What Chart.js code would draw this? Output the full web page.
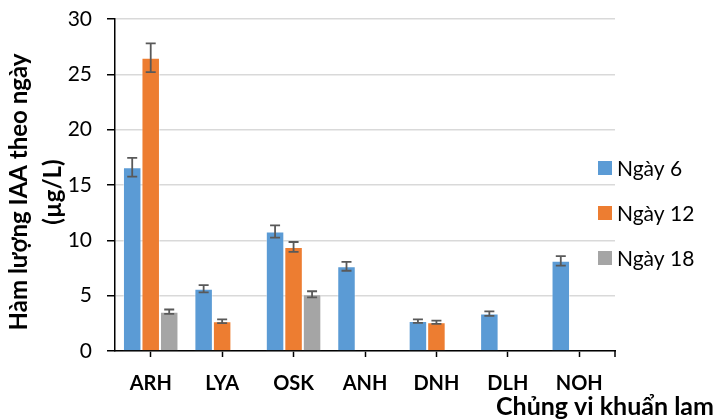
<!DOCTYPE html>
<html>
<head>
<meta charset="utf-8">
<script src="https://cdn.jsdelivr.net/npm/chart.js@4.4.1/dist/chart.umd.min.js"></script>
<style>
  html, body { margin: 0; padding: 0; background: #ffffff; }
  #wrap { width: 715px; height: 419px; position: relative; }
</style>
</head>
<body>
<div id="wrap"><canvas id="chart" width="715" height="419"></canvas></div>
<script>
// Cyanobacteria strains on the x axis
const strains = ['ARH', 'LYA', 'OSK', 'ANH', 'DNH', 'DLH', 'NOH'];

// IAA content (µg/L) per sampling day, with standard errors
const day6 = [16.6, 5.62, 10.8, 7.65, 2.7, 3.38, 8.15];
const day6Err = [0.85, 0.33, 0.55, 0.4, 0.15, 0.2, 0.43];
const day12 = [26.5, 2.68, 9.4, null, 2.6, null, null];
const day12Err = [1.3, 0.17, 0.45, null, 0.15, null, null];
const day18 = [3.55, null, 5.12, null, null, null, null];
const day18Err = [0.2, null, 0.28, null, null, null, null];

const seriesNames = ['Ngày 6', 'Ngày 12', 'Ngày 18'];
const yTicks = [0, 5, 10, 15, 20, 25, 30];

const yTitle = ['Hàm lượng IAA theo ngày', '(µg/L)'];
const xTitle = 'Chủng vi khuẩn lam';

const FONT = 'Lato, "Open Sans", "Noto Sans", sans-serif';
const colors = ['#5B9BD5', '#ED7D31', '#A5A5A5'];

// Plot rectangle of the chart, in canvas pixels
const PLOT = { left: 115, top: 19, right: 615, bottom: 351 };

// Draws the error whiskers on top of each bar
const errorBars = {
  id: 'errorBars',
  afterDatasetsDraw(chart) {
    const ctx = chart.ctx;
    const y = chart.scales.y;
    ctx.save();
    ctx.strokeStyle = '#595959';
    ctx.lineWidth = 1.8;
    chart.data.datasets.forEach((ds, di) => {
      const meta = chart.getDatasetMeta(di);
      ds.errors.forEach((e, i) => {
        const v = ds.data[i];
        if (v == null || e == null) return;
        const bar = meta.data[i];
        const x = bar.x;
        const top = y.getPixelForValue(v + e);
        const bot = y.getPixelForValue(v - e);
        const half = 5;
        ctx.beginPath();
        ctx.moveTo(x, top); ctx.lineTo(x, bot);
        ctx.moveTo(x - half, top); ctx.lineTo(x + half, top);
        ctx.moveTo(x - half, bot); ctx.lineTo(x + half, bot);
        ctx.stroke();
      });
    });
    ctx.restore();
  }
};

// Axis titles, legend and the closing tick of the category axis
const decorations = {
  id: 'decorations',
  afterDraw(chart) {
    const ctx = chart.ctx;
    const area = chart.chartArea;
    ctx.save();

    // closing tick at the right end of the x axis
    ctx.strokeStyle = '#000';
    ctx.lineWidth = 1.5;
    ctx.beginPath();
    ctx.moveTo(area.right, area.bottom);
    ctx.lineTo(area.right, area.bottom + 6);
    ctx.stroke();

    // y axis title, two rotated lines
    ctx.fillStyle = '#000';
    ctx.font = 'bold 24px ' + FONT;
    ctx.textAlign = 'center';
    ctx.textBaseline = 'alphabetic';
    const cy = 192;
    ctx.save();
    ctx.translate(27, cy);
    ctx.rotate(-Math.PI / 2);
    ctx.fillText(yTitle[0], 0, 0);
    ctx.restore();
    ctx.save();
    ctx.translate(61, cy);
    ctx.rotate(-Math.PI / 2);
    ctx.fillText(yTitle[1], 0, 0);
    ctx.restore();

    // x axis title, right aligned under the plot
    ctx.font = 'bold 25px ' + FONT;
    ctx.textAlign = 'right';
    ctx.fillText(xTitle, 714, 415);

    // legend
    ctx.font = '21px ' + FONT;
    ctx.textAlign = 'left';
    ctx.textBaseline = 'middle';
    const rows = [168, 213, 258];
    chart.data.datasets.forEach((ds, i) => {
      ctx.fillStyle = ds.backgroundColor;
      ctx.fillRect(598, rows[i] - 7, 14, 14);
      ctx.fillStyle = '#000';
      ctx.fillText(ds.label, 617, rows[i] + 1);
    });
    ctx.restore();
  }
};

const seriesValues = [day6, day12, day18];
const seriesErrors = [day6Err, day12Err, day18Err];

new Chart(document.getElementById('chart'), {
  type: 'bar',
  data: {
    labels: strains,
    datasets: seriesNames.map((name, i) => ({
      label: name,
      data: seriesValues[i],
      errors: seriesErrors[i],
      backgroundColor: colors[i],
      borderColor: 'rgba(255,255,255,0.45)',
      borderWidth: 1,
      categoryPercentage: 0.777,
      barPercentage: 1
    }))
  },
  options: {
    responsive: false,
    animation: false,
    devicePixelRatio: 1,
    layout: { padding: { top: PLOT.top, right: 715 - PLOT.right, left: 0, bottom: 0 } },
    plugins: {
      legend: { display: false },
      tooltip: { enabled: false }
    },
    scales: {
      x: {
        grid: {
          display: true,
          drawOnChartArea: false,
          offset: false,
          tickLength: 6,
          tickColor: '#000',
          tickWidth: 1.5
        },
        border: { color: '#000', width: 1.5 },
        ticks: {
          color: '#000',
          font: { family: FONT, size: 20, weight: 'bold' },
          padding: 15,
          maxRotation: 0
        },
        afterFit(scale) {
          scale.height = 419 - PLOT.bottom;
          scale.paddingLeft = 0;
          scale.paddingRight = 0;
        }
      },
      y: {
        min: 0,
        max: 30,
        afterBuildTicks(scale) { scale.ticks = yTicks.map(v => ({ value: v })); },
        grid: {
          color: '#d9d9d9',
          lineWidth: 1.5,
          tickLength: 8,
          tickColor: '#000',
          tickWidth: 1.5
        },
        border: { color: '#000', width: 1.5 },
        ticks: {
          color: '#000',
          font: { family: FONT, size: 21 },
          padding: 15
        },
        afterFit(scale) {
          scale.width = PLOT.left;
          scale.paddingTop = 0;
          scale.paddingBottom = 0;
        }
      }
    }
  },
  plugins: [errorBars, decorations]
});
</script>
</body>
</html>
